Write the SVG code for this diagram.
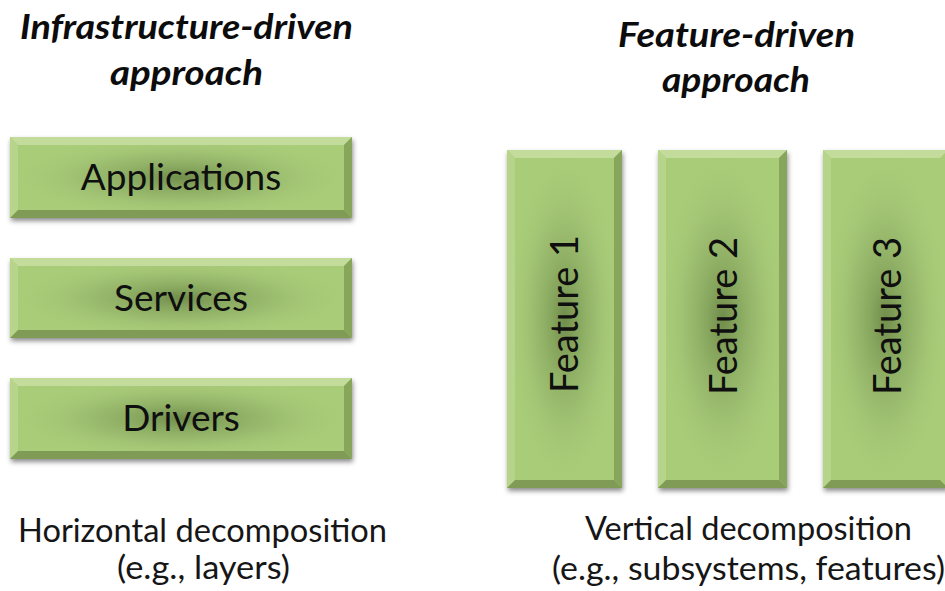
<svg xmlns="http://www.w3.org/2000/svg" width="945" height="591" viewBox="0 0 945 591">
  <defs>
    <style>
      .title { font-family: Lato, "Open Sans", sans-serif; font-weight: 700; font-style: italic; font-size: 35px; fill: #0c0c0c; text-anchor: middle; }
      .label { font-family: Lato, "Open Sans", sans-serif; font-size: 37px; fill: #0f0f0f; text-anchor: middle; }
      .vlabel { font-family: Lato, "Open Sans", sans-serif; font-size: 38px; fill: #0f0f0f; text-anchor: middle; }
      .caption { font-family: Lato, "Open Sans", sans-serif; font-size: 32px; fill: #161616; text-anchor: middle; }
      .base { fill: #a9cc79; }
      .hi { fill: #c6de9f; opacity: 0.9; }
      .lt { fill: #b6d58a; }
      .dk { fill: #88a65b; }
      .dk2 { fill: #7f9b55; }
    </style>
    <radialGradient id="glow" cx="0.5" cy="0.5" r="0.5">
      <stop offset="0" stop-color="#6a8646" stop-opacity="0.9"/>
      <stop offset="0.6" stop-color="#8aa962" stop-opacity="0.35"/>
      <stop offset="1" stop-color="#a9cc79" stop-opacity="0"/>
    </radialGradient>
    <filter id="shadow" x="-10%" y="-10%" width="125%" height="130%">
      <feDropShadow dx="1" dy="3" stdDeviation="2.5" flood-color="#000" flood-opacity="0.45"/>
    </filter>
  </defs>

  <!-- headings -->
  <text class="title" x="186.5" y="39" textLength="333" lengthAdjust="spacingAndGlyphs">Infrastructure-driven</text>
  <text class="title" x="186.5" y="85" textLength="153" lengthAdjust="spacingAndGlyphs">approach</text>
  <text class="title" x="736.5" y="47" textLength="237" lengthAdjust="spacingAndGlyphs">Feature-driven</text>
  <text class="title" x="736" y="92" textLength="148" lengthAdjust="spacingAndGlyphs">approach</text>

  <!-- horizontal layers -->
  <g id="applications">
    <g filter="url(#shadow)">
      <rect class="base" x="10" y="137" width="342" height="81"/>
    </g>
    <rect x="10" y="137" width="342" height="81" fill="url(#glow)"/>
    <polygon class="hi" points="10,137 352,137 344,145 18,145"/>
    <polygon class="lt" points="10,137 18,145 18,210 10,218"/>
    <polygon class="dk" points="352,137 352,218 344,210 344,145"/>
    <polygon class="dk2" points="10,218 352,218 344,210 18,210"/>
    <text class="label" x="181" y="190">Applications</text>
  </g>

  <g id="services">
    <g filter="url(#shadow)">
      <rect class="base" x="10" y="258" width="342" height="80"/>
    </g>
    <rect x="10" y="258" width="342" height="80" fill="url(#glow)"/>
    <polygon class="hi" points="10,258 352,258 344,266 18,266"/>
    <polygon class="lt" points="10,258 18,266 18,330 10,338"/>
    <polygon class="dk" points="352,258 352,338 344,330 344,266"/>
    <polygon class="dk2" points="10,338 352,338 344,330 18,330"/>
    <text class="label" x="181" y="311">Services</text>
  </g>

  <g id="drivers">
    <g filter="url(#shadow)">
      <rect class="base" x="10" y="378" width="342" height="81"/>
    </g>
    <rect x="10" y="378" width="342" height="81" fill="url(#glow)"/>
    <polygon class="hi" points="10,378 352,378 344,386 18,386"/>
    <polygon class="lt" points="10,378 18,386 18,451 10,459"/>
    <polygon class="dk" points="352,378 352,459 344,451 344,386"/>
    <polygon class="dk2" points="10,459 352,459 344,451 18,451"/>
    <text class="label" x="181" y="431">Drivers</text>
  </g>

  <!-- vertical features -->
  <g id="feature1">
    <g filter="url(#shadow)">
      <rect class="base" x="507" y="150" width="115" height="338"/>
    </g>
    <rect x="507" y="150" width="115" height="338" fill="url(#glow)"/>
    <polygon class="hi" points="507,150 622,150 614,158 515,158"/>
    <polygon class="lt" points="507,150 515,158 515,480 507,488"/>
    <polygon class="dk" points="622,150 622,488 614,480 614,158"/>
    <polygon class="dk2" points="507,488 622,488 614,480 515,480"/>
    <text class="vlabel" transform="translate(578,314) rotate(-90)">Feature 1</text>
  </g>

  <g id="feature2">
    <g filter="url(#shadow)">
      <rect class="base" x="658" y="150" width="129" height="338"/>
    </g>
    <rect x="658" y="150" width="129" height="338" fill="url(#glow)"/>
    <polygon class="hi" points="658,150 787,150 779,158 666,158"/>
    <polygon class="lt" points="658,150 666,158 666,480 658,488"/>
    <polygon class="dk" points="787,150 787,488 779,480 779,158"/>
    <polygon class="dk2" points="658,488 787,488 779,480 666,480"/>
    <text class="vlabel" transform="translate(737,316) rotate(-90)">Feature 2</text>
  </g>

  <g id="feature3">
    <g filter="url(#shadow)">
      <rect class="base" x="823" y="150" width="125" height="338"/>
    </g>
    <rect x="823" y="150" width="125" height="338" fill="url(#glow)"/>
    <polygon class="hi" points="823,150 948,150 940,158 831,158"/>
    <polygon class="lt" points="823,150 831,158 831,480 823,488"/>
    <polygon class="dk2" points="823,488 948,488 940,480 831,480"/>
    <text class="vlabel" transform="translate(901,316) rotate(-90)">Feature 3</text>
  </g>

  <!-- no connectors in this figure -->
  <g id="connectors"/>

  <!-- captions -->
  <text class="caption" x="202.5" y="542" textLength="369" lengthAdjust="spacingAndGlyphs">Horizontal decomposition</text>
  <text class="caption" x="203.5" y="579" textLength="173" lengthAdjust="spacingAndGlyphs">(e.g., layers)</text>
  <text class="caption" x="748.5" y="540" textLength="327" lengthAdjust="spacingAndGlyphs">Vertical decomposition</text>
  <text class="caption" x="748.5" y="580" textLength="393" lengthAdjust="spacingAndGlyphs">(e.g., subsystems, features)</text>
</svg>
